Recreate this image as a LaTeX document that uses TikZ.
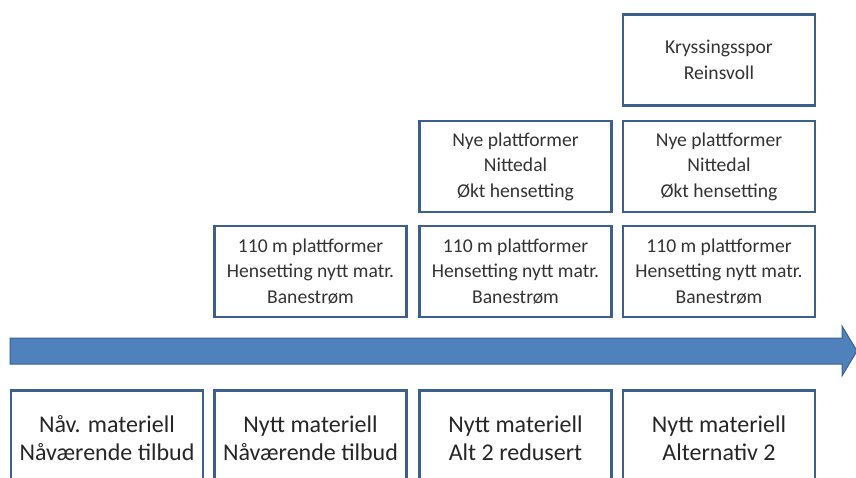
\documentclass[tikz,border=0pt]{standalone}
\usepackage{fontspec}
\setmainfont{Carlito}
\definecolor{rim}{HTML}{3B5F8E}
\definecolor{pil}{HTML}{4F81BD}
\tikzset{
    tiltak/.style={draw=rim, line width=2.6pt, fill=white, minimum width=192pt, minimum height=91pt, align=center, font=\fontsize{19.6}{25.5}\selectfont, text=black!80},
    alt/.style={tiltak, minimum height=95pt, font=\fontsize{24}{28}\selectfont, text=black!85}
}
\begin{document}
\begin{tikzpicture}[x=1pt, y=-1pt]
                \useasboundingbox (0,0) rectangle (856,478);
                \clip (0,0) rectangle (856,478);

                % tidslinje
                \draw[draw=rim, fill=pil, line width=1pt] (10,338) -- (842,338) -- (842,326) -- (857,351) -- (842,376) -- (842,364) -- (10,364) -- cycle;

                % alternativer under pila
                \node[alt] (A) at (107,438) {Nåv. materiell\\Nåværende tilbud};
                \node[alt] (B) at (310.5,438) {Nytt materiell\\Nåværende tilbud};
                \node[alt] (C) at (515.5,438) {Nytt materiell\\Alt 2 redusert};
                \node[alt] (D) at (719,438) {Nytt materiell\\Alternativ 2};

                % tiltak over pila
                \node[tiltak] (B1) at (310.5,271.5) {110 m plattformer\\Hensetting nytt matr.\\Banestrøm};
                \node[tiltak] (C1) at (515.5,271.5) {110 m plattformer\\Hensetting nytt matr.\\Banestrøm};
                \node[tiltak] (D1) at (719,271.5) {110 m plattformer\\Hensetting nytt matr.\\Banestrøm};
                \node[tiltak] (C2) at (515.5,166.5) {Nye plattformer\\Nittedal\\Økt hensetting};
                \node[tiltak] (D2) at (719,166.5) {Nye plattformer\\Nittedal\\Økt hensetting};
                \node[tiltak] (D3) at (719,60) {Kryssingsspor\\Reinsvoll};
            \end{tikzpicture}
\end{document}
